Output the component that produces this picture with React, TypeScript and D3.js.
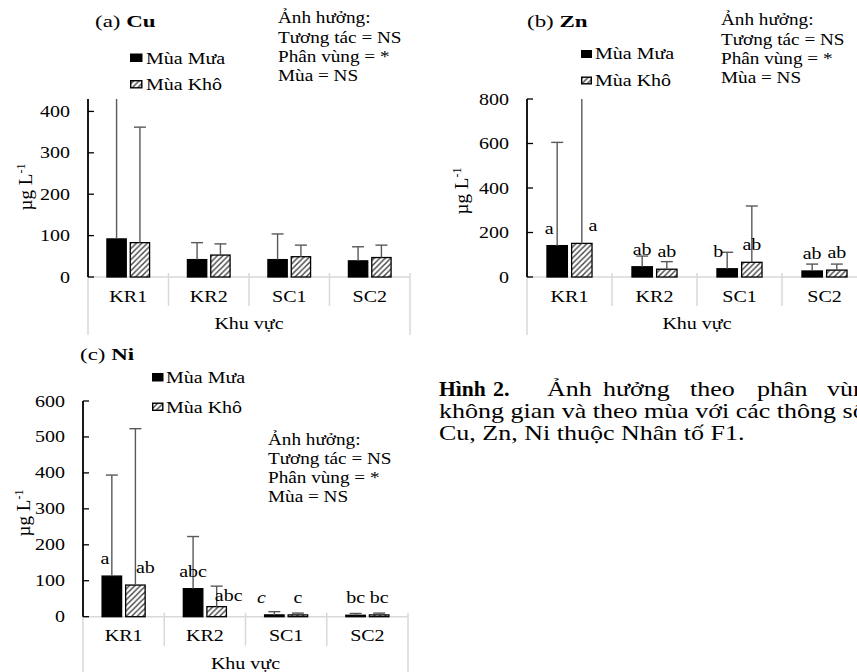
import React from 'react';
import * as d3 from 'd3';

// ---------- DATA ----------
const categories = ['KR1', 'KR2', 'SC1', 'SC2'];
const seriesNames = ['Mùa Mưa', 'Mùa Khô'];
const effectLines = ['Ảnh hưởng:', 'Tương tác = NS', 'Phân vùng = *', 'Mùa = NS'];

const cuRain = [92, 42, 42, 39];
const cuRainErr = [480, 83, 104, 73];
const cuDry = [83, 53, 49, 47];
const cuDryErr = [362, 80, 77, 77];
const cuTicks = [0, 100, 200, 300, 400];

const znRain = [141, 46, 37, 27];
const znRainErr = [605, 94, 111, 58];
const znDry = [151, 35, 66, 31];
const znDryErr = [900, 69, 319, 58];
const znTicks = [0, 200, 400, 600, 800];
const znRainLetters = ['a', 'ab', 'b', 'ab'];
const znDryLetters = ['a', 'ab', 'ab', 'ab'];

const niRain = [113, 78, 5, 4];
const niRainErr = [394, 223, 14, 9];
const niDry = [88, 28, 5, 5];
const niDryErr = [523, 85, 10, 10];
const niTicks = [0, 100, 200, 300, 400, 500, 600];
const niRainLetters = ['a', 'abc', 'c', 'bc'];
const niDryLetters = ['ab', 'abc', 'c', 'bc'];

const captionLine1 = ['Ảnh', 'hưởng', 'theo', 'phân', 'vùng'];
const captionLine2 = 'không gian và theo mùa với các thông số';
const captionLine3 = 'Cu, Zn, Ni thuộc Nhân tố F1.';

// ---------- LAYOUT ----------
type Panel = {
  tag: string; element: string;
  x0: number; x1: number; y0: number; yTop: number; max: number;
  ticks: number[];
  rain: number[]; rainErr: number[]; dry: number[]; dryErr: number[];
  rainLetters?: string[]; dryLetters?: string[];
  rainDx?: number[]; dryDx?: number[]; dryDy?: number[]; rainItalic?: boolean[];
  title: [number, number];
  legend: { x: number; y1: number; y2: number; w: number; h: number; tx: number; b1: number; b2: number };
  eff: { x: number; ys: number[] };
  ylab: [number, number];
};

const panels: Panel[] = [
  {
    tag: '(a) ', element: 'Cu', x0: 88, x1: 410, y0: 277, yTop: 99, max: 430, ticks: cuTicks,
    rain: cuRain, rainErr: cuRainErr, dry: cuDry, dryErr: cuDryErr,
    title: [95, 27],
    legend: { x: 130, y1: 53.5, y2: 80, w: 12.5, h: 8.5, tx: 146, b1: 63.5, b2: 89.5 },
    eff: { x: 278, ys: [23, 42.5, 61.5, 80.5] },
    ylab: [26, 187],
  },
  {
    tag: '(b) ', element: 'Zn', x0: 527, x1: 867, y0: 277, yTop: 99, max: 800, ticks: znTicks,
    rain: znRain, rainErr: znRainErr, dry: znDry, dryErr: znDryErr,
    rainLetters: znRainLetters, dryLetters: znDryLetters,
    rainDx: [-8, 0, -9, 0], dryDx: [11, 0, 0, 0],
    title: [527, 27],
    legend: { x: 581, y1: 50, y2: 76.5, w: 11, h: 8, tx: 595, b1: 59, b2: 85.5 },
    eff: { x: 721, ys: [25, 44.5, 63.5, 82.5] },
    ylab: [462, 191],
  },
  {
    tag: '(c) ', element: 'Ni', x0: 83, x1: 408, y0: 616.7, yTop: 401, max: 600, ticks: niTicks,
    rain: niRain, rainErr: niRainErr, dry: niDry, dryErr: niDryErr,
    rainLetters: niRainLetters, dryLetters: niDryLetters,
    rainDx: [-7, 0, -13, 0], dryDx: [10, 12, 0, 0], dryDy: [0, 6, 0, 0],
    rainItalic: [false, false, true, false],
    title: [80, 360],
    legend: { x: 152, y1: 373, y2: 402.5, w: 11.5, h: 8.5, tx: 166, b1: 383, b2: 412.5 },
    eff: { x: 268, ys: [445, 464, 483, 502] },
    ylab: [24, 513],
  },
];

const SX = 1.25;
const FS = 16;
const ERR = '#595959';
const GRID = '#d9d9d9';

function T(props: {
  x: number; y: number; sx?: number; size?: number; anchor?: string;
  bold?: boolean; italic?: boolean; children: React.ReactNode;
}) {
  const { x, y, sx = SX, size = FS, anchor = 'start', bold, italic, children } = props;
  return (
    <text
      transform={`translate(${x},${y}) scale(${sx},1)`}
      fontSize={size}
      textAnchor={anchor as any}
      fontWeight={bold ? 'bold' : 'normal'}
      fontStyle={italic ? 'italic' : 'normal'}
      fill="#000"
    >
      {children}
    </text>
  );
}

function PanelView({ p }: { p: Panel }) {
  const y = d3.scaleLinear().domain([0, p.max]).range([p.y0, p.yTop]).clamp(true);
  const x = d3.scaleBand<string>().domain(categories).range([p.x0, p.x1]).paddingInner(0).paddingOuter(0);
  const bw = x.bandwidth();
  const barW = bw * 0.24;
  const off = bw * 0.145;
  const capW = 12;

  const series = [
    { vals: p.rain, errs: p.rainErr, fill: '#000', d: -off, letters: p.rainLetters, dx: p.rainDx, dy: undefined as number[] | undefined, italic: p.rainItalic },
    { vals: p.dry, errs: p.dryErr, fill: 'url(#hatch)', d: off, letters: p.dryLetters, dx: p.dryDx, dy: p.dryDy, italic: undefined as boolean[] | undefined },
  ];

  const bounds = categories.map((c) => x(c) as number).concat([p.x1]);

  return (
    <g>
      {/* category axis */}
      <line x1={p.x0} x2={p.x1} y1={p.y0} y2={p.y0} stroke={GRID} strokeWidth={1.5} />
      {bounds.map((bx, i) => {
        const outer = i === 0 || i === bounds.length - 1;
        return (
          <line key={i} x1={bx} x2={bx} y1={p.y0 - 4} y2={p.y0 + (outer ? 58 : 29)} stroke={GRID} strokeWidth={1.5} />
        );
      })}
      {categories.map((c) => (
        <T key={c} x={(x(c) as number) + bw / 2} y={p.y0 + 24.5} anchor="middle">{c}</T>
      ))}
      <T x={(p.x0 + p.x1) / 2} y={p.y0 + 52} anchor="middle">Khu vực</T>

      {/* bars */}
      {series.map((s, si) =>
        categories.map((c, i) => {
          const cx = (x(c) as number) + bw / 2 + s.d;
          const top = y(s.vals[i]);
          return (
            <rect key={`b${si}${i}`} x={cx - barW / 2} y={top} width={barW} height={p.y0 - top}
              fill={s.fill} stroke="#000" strokeWidth={1.3} />
          );
        })
      )}
      {/* error bars */}
      {series.map((s, si) =>
        categories.map((c, i) => {
          const cx = (x(c) as number) + bw / 2 + s.d;
          const top = y(s.vals[i]);
          const et = y(s.errs[i]);
          const clipped = s.errs[i] > p.max;
          return (
            <g key={`e${si}${i}`}>
              <line x1={cx} x2={cx} y1={top} y2={et} stroke={ERR} strokeWidth={1.4} />
              {!clipped && <line x1={cx - capW / 2} x2={cx + capW / 2} y1={et} y2={et} stroke={ERR} strokeWidth={1.4} />}
            </g>
          );
        })
      )}
      {/* significance letters */}
      {series.map((s, si) =>
        s.letters
          ? categories.map((c, i) => {
              const cx = (x(c) as number) + bw / 2 + s.d + (s.dx ? s.dx[i] : 0);
              const ty = y(s.vals[i]) - 12 + (s.dy ? s.dy[i] : 0);
              return (
                <T key={`l${si}${i}`} x={cx} y={ty} anchor="middle" italic={s.italic ? s.italic[i] : false}>
                  {s.letters![i]}
                </T>
              );
            })
          : null
      )}

      {/* y axis */}
      <line x1={p.x0} x2={p.x0} y1={p.y0} y2={p.yTop} stroke="#000" strokeWidth={1.8} />
      {p.ticks.map((t) => (
        <g key={t}>
          <line x1={p.x0} x2={p.x0 + 6} y1={y(t)} y2={y(t)} stroke="#000" strokeWidth={1.3} />
          <T x={p.x0 - 18} y={y(t) + 5.5} anchor="end">{t}</T>
        </g>
      ))}
      <text transform={`translate(${p.ylab[0] + 6},${p.ylab[1]}) rotate(-90)`} fontSize={19} textAnchor="middle">
        µg L<tspan dy={-7} fontSize={12}>-1</tspan>
      </text>

      {/* title */}
      <text transform={`translate(${p.title[0]},${p.title[1]}) scale(1.35,1)`} fontSize={17}>
        {p.tag}
        <tspan fontWeight="bold">{p.element}</tspan>
      </text>

      {/* legend */}
      <rect x={p.legend.x} y={p.legend.y1} width={p.legend.w} height={p.legend.h} fill="#000" />
      <rect x={p.legend.x + 0.7} y={p.legend.y2 + 0.7} width={p.legend.w - 1.4} height={p.legend.h - 1.4}
        fill="url(#hatch)" stroke="#000" strokeWidth={1.4} />
      <T x={p.legend.tx} y={p.legend.b1}>{seriesNames[0]}</T>
      <T x={p.legend.tx} y={p.legend.b2}>{seriesNames[1]}</T>

      {/* effects */}
      {effectLines.map((l, i) => (
        <T key={l} x={p.eff.x} y={p.eff.ys[i]} sx={1.2}>{l}</T>
      ))}
    </g>
  );
}

export default function App() {
  const capX = [547, 603, 690, 757, 827];
  return (
    <svg
      width={857}
      height={672}
      style={{ position: 'absolute', left: 0, top: 0, display: 'block', background: '#fff' }}
      fontFamily="'Liberation Serif', 'Times New Roman', serif"
    >
      <defs>
        <pattern id="hatch" patternUnits="userSpaceOnUse" width={5.5} height={5.5}>
          <rect width={5.5} height={5.5} fill="#fff" />
          <path d="M0,5.5 L5.5,0 M-1,1 L1,-1 M4.5,6.5 L6.5,4.5" stroke="#404040" strokeWidth={1.4} />
        </pattern>
      </defs>
      <rect width={857} height={672} fill="#fff" />
      {panels.map((p) => (
        <PanelView key={p.element} p={p} />
      ))}

      {/* caption */}
      <T x={439} y={396} sx={1.08} size={20} bold>Hình</T>
      <T x={493} y={396} sx={1.1} size={20} bold>2.</T>
      {captionLine1.map((w, i) => (
        <T key={w} x={capX[i]} y={396} sx={1.3} size={20}>{w}</T>
      ))}
      <T x={439} y={418} sx={1.3} size={20}>{captionLine2}</T>
      <T x={439} y={440} sx={1.3} size={20}>{captionLine3}</T>
    </svg>
  );
}
